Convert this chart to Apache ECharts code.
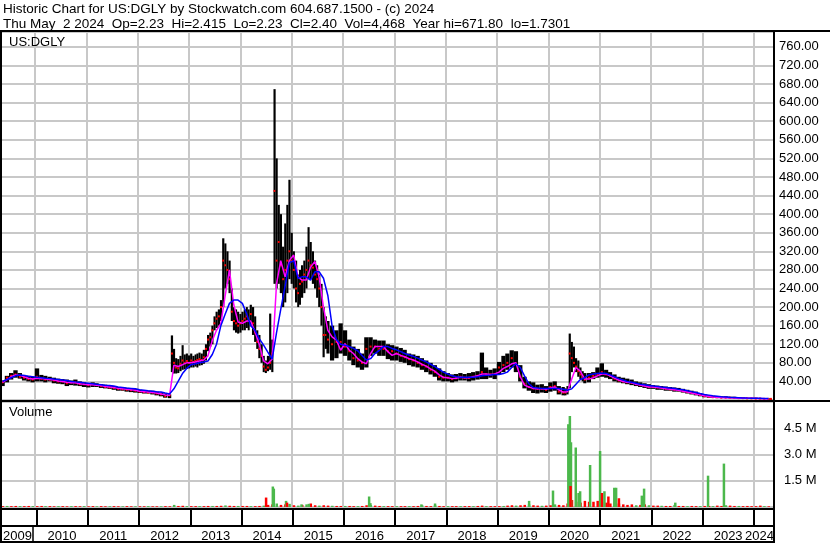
<!DOCTYPE html>
<html><head><meta charset="utf-8">
<script src="https://cdn.jsdelivr.net/npm/echarts@6/dist/echarts.min.js"></script>
<style>html,body{margin:0;padding:0;background:#fff}#c{width:830px;height:543px}</style>
</head><body><div id="c"></div>
<script>
// ---------------- DATA ----------------
const headerLine1 = 'Historic Chart for US:DGLY by Stockwatch.com 604.687.1500 - (c) 2024';
const headerLine2 = 'Thu May  2 2024  Op=2.23  Hi=2.415  Lo=2.23  Cl=2.40  Vol=4,468  Year hi=671.80  lo=1.7301';
const symbolName = 'US:DGLY';
const volumeTitle = 'Volume';
const axisStart = '2009-05-11';
const axisEnd = '2024-05-24';
const yearBoundaries = ['2010-01-01','2011-01-01','2012-01-01','2013-01-01','2014-01-01','2015-01-01','2016-01-01','2017-01-01','2018-01-01','2019-01-01','2020-01-01','2021-01-01','2022-01-01','2023-01-01','2024-01-01'];
const labelRowDividers = ['2009-12-18'];
const yearLabelDates = ['2009-08-18','2010-07-02','2011-07-02','2012-07-02','2013-07-02','2014-07-02','2015-07-02','2016-07-02','2017-07-02','2018-07-02','2019-07-02','2020-07-02','2021-07-02','2022-07-02','2023-07-02','2024-02-10'];

function monthList(y0, m0, y1, m1) {
  const out = [];
  for (let y = y0, m = m0; y < y1 || (y === y1 && m <= m1); ) {
    out.push(y + '-' + String(m).padStart(2, '0') + '-15');
    m++; if (m > 12) { m = 1; y++; }
  }
  return out;
}
function halfMonthList(y0, m0, y1, m1) {
  const out = [];
  for (let y = y0, m = m0; y < y1 || (y === y1 && m <= m1); ) {
    const ym = y + '-' + String(m).padStart(2, '0');
    out.push(ym + '-01', ym + '-16');
    m++; if (m > 12) { m = 1; y++; }
  }
  return out;
}
const maDates = monthList(2009, 5, 2024, 4);
const priceDates = [].concat(
  monthList(2009, 5, 2012, 8),
  halfMonthList(2012, 9, 2014, 6),
  halfMonthList(2014, 7, 2015, 9),
  monthList(2015, 10, 2020, 4),
  halfMonthList(2020, 5, 2020, 9),
  monthList(2020, 10, 2024, 4),
  ['2024-05-02']);

const priceLow = [
  30,38,44,48,46,42,40,38,
  40,40,38,40,36,35,34,30,32,31,30,28,
  27,28,28,26,25,24,22,20,20,18,17,16,
  15,14,14,12,10,8,5,4,
  60,57,57,58,62,65,66,67,
  68,70,70,72,70,74,75,78,85,105,115,120,150,155,160,170,200,240,250,230,170,150,145,143,
  145,150,150,155,150,160,140,125,110,90,80,60,
  58,62,65,60,250,240,250,230,200,210,230,260, 250,240,210,200,205,220,230,240,260,260,250,240,220,200,160,92,110,100,
  85,90,100,
  95,85,75,70,65,70,95,100,95,95,88,85,
  85,82,80,75,72,70,65,60,55,50,42,40,
  40,38,40,42,42,40,42,44,45,45,48,45,
  55,60,65,70,60,40,25,20,15,14,16,15,
  18,20,12,10,
  10,12,25,60,70,60,50,45,40,36,
  38,45,48,
  50,48,45,40,38,36,34,32,30,28,26,24,
  24,22,22,20,20,18,18,16,14,12,10,8,
  6,5,5,4,4,4,3.5,3.5,3,3,2.5,2.5,
  2.5,2,2,2,
  2.23];
const priceHigh = [
  42,52,58,64,58,54,52,50,
  68,54,52,50,48,46,45,44,42,44,40,38,
  36,38,36,34,33,32,30,28,27,26,25,24,
  22,21,20,20,18,16,14,12,
  139,110,90,88,95,118,98,100,
  96,100,95,98,100,102,100,108,120,140,145,160,180,190,195,215,348,337,320,300,240,200,195,190,
  185,190,195,200,195,205,200,180,150,140,120,95,
  85,95,186,130,669,520,420,400,330,380,420,474, 360,320,300,270,280,290,300,330,372,340,320,300,290,270,250,200,180,170,
  160,150,165,
  150,130,115,110,100,135,135,130,128,128,120,118,
  115,112,108,100,98,95,90,85,80,75,68,62,
  58,55,56,58,56,58,60,62,102,70,65,68,
  82,95,100,107,105,75,50,40,38,33,34,30,
  38,40,30,28,
  25,30,143,125,115,90,85,70,62,58,
  58,60,70,
  79,65,60,55,50,48,46,44,40,38,36,34,
  32,31,30,29,28,27,26,24,22,20,18,15,
  12,10,9,8,8,8,7,7,6,6,5,5,
  5,4,4,3.5,
  2.415];
const priceClose = [
  38,48,52,55,50,48,45,44,
  50,46,44,44,42,40,40,36,38,38,34,34,
  32,34,32,30,28,27,26,24,23,22,21,20,
  18,17,16,16,14,12,8,10,
  100,80,70,68,78,85,80,84,
  80,85,82,84,86,88,86,92,110,130,135,150,165,175,180,200,300,290,280,260,190,170,165,160,
  165,170,175,180,170,185,165,145,125,110,95,72,
  65,70,80,100,450,300,340,290,260,280,300,320, 300,280,240,230,250,255,270,280,300,290,285,270,260,240,200,140,140,130,
  120,125,125,
  115,105,90,85,80,110,115,115,110,110,105,105,
  100,95,92,88,85,80,75,72,65,60,50,48,
  48,45,47,50,48,48,50,52,60,55,55,56,
  70,75,80,90,78,50,35,28,25,24,24,22,
  28,30,18,16,
  16,20,100,90,80,72,62,55,48,44,
  48,52,55,
  60,55,52,46,42,40,38,37,34,32,30,28,
  28,27,26,24,23,22,21,19,17,15,13,11,
  8,7,6,6,5,5,5,4.5,4,4,3.5,3.5,
  3,3,2.5,2.4,
  2.40];

const maShort = [
  38,44,50,54,53,50,47,45,
  47,46,45,44,43,41,40,38,37,37,35,34,
  33,33,32,31,29,28,27,25,24,23,22,21,
  19,18,17,16,15,13,11,10,75,72,76,80,
  80,82,84,86,95,128,150,165,225,280,205,168,
  165,170,170,147,120,84,78,88,250,300,265,300,
  312,265,258,258,286,298,265,200,150,136,129,107,
  121,107,100,89,82,78,100,115,115,115,104,96,
  100,96,93,89,86,82,77,73,67,62,54,49,
  48,46,47,49,48,48,50,52,56,56,55,56,
  60,68,72,78,80,50,32,28,25,24,24,23,
  26,28,22,17,18,45,70,62,45,45,48,52,
  56,56,52,47,43,40,38,37,34,32,30,28,
  28,27,26,24,23,22,21,19,17,15,13,11,
  9,7.5,6.5,6,5.5,5,5,4.5,4,4,3.5,3.5,
  3.2,3,2.7,2.5];
const maLong = [
  40,44,48,52,54,53,51,50,
  49,48,47,46,45,44,43,42,40,39,38,37,
  36,35,34,33,32,31,30,28,27,26,25,24,
  22,21,20,19,18,17,15,13,24,40,57,68,
  76,78,80,82,84,98,120,160,185,208,215,215,
  208,185,160,150,132,118,103,88,145,195,245,295,
  300,262,265,265,258,276,276,262,225,160,130,120,
  118,115,111,106,96,86,89,100,107,115,115,111,
  108,104,100,97,94,90,86,82,77,72,66,60,
  56,52,50,49,49,49,49,50,52,53,54,55,
  55,57,60,70,78,70,52,35,27,26,25,25,
  25,25,25,23,21,24,34,44,48,54,56,57,
  58,57,54,50,46,43,40,38,36,34,33,31,
  30,29,28,27,26,25,23,22,20,18,16,14,
  12,10.5,9,8,7,6.5,6,5.5,5,4.5,4.2,4,
  3.8,3.5,3.2,3];

// volume in millions
const baseVol = [
  0.05,0.06,0.05,0.06,0.05,0.05,0.06,0.05,
  0.05,0.06,0.05,0.05,0.04,0.05,0.05,0.04,0.05,0.05,0.04,0.05,
  0.04,0.05,0.04,0.05,0.04,0.04,0.05,0.04,0.04,0.05,0.04,0.04,
  0.04,0.04,0.05,0.04,0.04,0.04,0.05,0.04,0.12,0.06,0.07,0.05,
  0.05,0.05,0.05,0.05,0.06,0.06,0.06,0.07,0.09,0.07,0.06,0.06,
  0.06,0.06,0.05,0.05,0.06,0.08,0.12,0.15,0.2,0.12,0.15,0.18,
  0.1,0.08,0.12,0.15,0.2,0.1,0.08,0.1,0.08,0.07,0.06,0.06,
  0.06,0.06,0.05,0.05,0.06,0.1,0.12,0.08,0.06,0.05,0.05,0.05,
  0.05,0.05,0.05,0.05,0.05,0.06,0.1,0.06,0.05,0.1,0.06,0.05,
  0.05,0.05,0.05,0.05,0.05,0.05,0.05,0.06,0.08,0.05,0.05,0.05,
  0.05,0.06,0.08,0.1,0.08,0.1,0.12,0.15,0.1,0.08,0.07,0.08,
  0.1,0.15,0.12,0.1,0.2,0.4,0.3,0.25,0.35,0.3,0.3,0.35,
  0.3,0.25,0.2,0.25,0.2,0.15,0.12,0.15,0.1,0.12,0.15,0.1,
  0.08,0.08,0.07,0.06,0.06,0.12,0.06,0.06,0.05,0.06,0.05,0.05,
  0.06,0.06,0.05,0.08,0.06,0.1,0.08,0.06,0.06,0.05,0.06,0.05,
  0.05,0.08,0.05,0.04];
const baseUp = [
  0,1,0,0,1,0,0,1,
  0,0,1,0,0,1,0,0,1,0,0,1,
  0,0,1,0,0,1,0,0,1,0,0,1,
  0,0,1,0,0,1,0,0,1,0,0,1,
  0,0,1,0,0,1,0,0,1,0,0,1,
  0,0,1,0,0,1,0,0,1,0,0,1,
  0,1,0,1,0,0,1,0,0,1,0,0,
  1,0,0,1,0,0,1,0,0,1,0,0,
  1,0,0,1,0,0,1,0,0,1,0,0,
  1,0,0,1,0,0,1,0,0,1,0,0,
  0,1,0,0,1,0,0,1,0,0,1,0,
  0,1,0,0,0,0,0,0,0,0,0,0,
  0,0,0,0,0,0,0,0,1,0,0,1,
  0,0,1,0,0,1,0,0,1,0,0,1,
  0,0,1,0,0,1,0,0,1,0,0,0,
  0,0,1,0];
const spikeDates = ['2014-07-01','2014-08-18','2014-08-25','2014-11-20','2014-11-27','2015-03-10','2015-05-01','2016-07-03','2016-07-12','2017-07-10','2017-10-15','2019-08-15',
  '2020-02-01','2020-05-20','2020-05-31','2020-06-08','2020-06-05','2020-07-12','2020-08-01','2020-08-12','2020-10-22','2021-01-01','2021-01-15','2021-02-01','2021-03-01',
  '2021-04-12','2021-04-25','2021-05-15','2021-10-25','2021-11-10','2022-06-20','2023-02-08','2023-06-01'];
const spikeVol = [0.54,1.17,1.05,0.35,0.25,0.15,0.18,0.6,0.22,0.15,0.2,0.35,
  0.94,4.73,5.2,3.7,1.2,3.4,0.8,0.9,2.4,3.2,0.8,0.9,0.6,
  1.1,1.1,0.5,0.65,1.05,0.25,1.79,2.48];
const spikeUp = [0,1,1,1,0,1,1,1,1,1,1,1,
  1,1,1,1,0,1,1,1,1,1,0,1,0,
  1,1,0,1,1,1,1,1];

const priceTicks = [40,80,120,160,200,240,280,320,360,400,440,480,520,560,600,640,680,720,760];
const volTicks = [1.5,3.0,4.5];

// ---------------- CHART ----------------
const P = s => { const a = s.split('-').map(Number); return Date.UTC(a[0], a[1] - 1, a[2]); };
const priceT = priceDates.map(P);
const priceRows = priceT.map((t, i) => [t, priceLow[i], priceHigh[i], priceClose[i]]);
const volRows = maDates.map((d, i) => [P(d), baseVol[i], baseUp[i]])
  .concat(spikeDates.map((d, i) => [P(d), spikeVol[i], spikeUp[i]]));

const chart = echarts.init(document.getElementById('c'), null, { renderer: 'canvas' });
const FONT = 'Arial, "Liberation Sans", sans-serif';
const GRID = '#c8c8c8';
const BLACK = '#000';

function renderPrice(params, api) {
  const i = params.dataIndex;
  const t = api.value(0);
  const pHi = api.coord([t, api.value(2)]);
  const pLo = api.coord([t, api.value(1)]);
  const pCl = api.coord([t, api.value(3)]);
  const tp = i > 0 ? priceT[i - 1] : t;
  const tn = i < priceT.length - 1 ? priceT[i + 1] : t;
  const xp = api.coord([tp, 0])[0], xn = api.coord([tn, 0])[0];
  let w = (xn - xp) / 2;
  if (i === 0 || i === priceT.length - 1) w = (xn - xp);
  w = Math.max(1.5, w);
  return { type: 'group', children: [
    { type: 'rect', shape: { x: pHi[0] - w / 2, y: pHi[1], width: w, height: Math.max(1, pLo[1] - pHi[1]) }, style: { fill: BLACK } },
    { type: 'rect', shape: { x: pCl[0] - 1, y: pCl[1] - 1, width: 2, height: 2 }, style: { fill: '#ff0000' } }
  ]};
}
function renderVol(params, api) {
  const t = api.value(0);
  const p0 = api.coord([t, 0]);
  const p1 = api.coord([t, api.value(1)]);
  return { type: 'rect', shape: { x: p0[0] - 1, y: p1[1], width: 2.5, height: p0[1] - p1[1] },
    style: { fill: api.value(2) ? '#4cb84c' : '#ff0000' } };
}

function xAxisFor(idx, ticks, color, width) {
  return {
    type: 'value', gridIndex: idx, min: P(axisStart), max: P(axisEnd),
    axisLine: { show: false }, axisLabel: { show: false },
    axisTick: { show: false, customValues: ticks.map(P) },
    splitLine: { show: true, lineStyle: { color: color, width: width } }
  };
}

const option = {
  animation: false,
  backgroundColor: '#fff',
  grid: [
    { left: 2, right: 56, top: 32, height: 368 },
    { left: 2, right: 56, top: 402, height: 105 },
    { left: 2, right: 56, top: 509, height: 16 },
    { left: 2, right: 56, top: 527, height: 14 }
  ],
  xAxis: [
    xAxisFor(0, yearBoundaries, GRID, 2),
    xAxisFor(1, yearBoundaries, GRID, 2),
    { type: 'value', gridIndex: 2, min: P(axisStart), max: P(axisEnd), position: 'bottom',
      axisLine: { show: false },
      axisTick: { show: false, customValues: yearBoundaries.map(P) },
      splitLine: { show: true, lineStyle: { color: BLACK, width: 2 } },
      axisLabel: { show: true, customValues: yearLabelDates.map(P), margin: 5,
        formatter: v => String(new Date(v).getUTCFullYear()), color: BLACK, fontSize: 13, fontFamily: FONT } },
    xAxisFor(3, labelRowDividers, BLACK, 1.5)
  ],
  yAxis: [
    { type: 'value', gridIndex: 0, position: 'right', min: 0, max: 792, interval: 40,
      axisLine: { show: false }, axisTick: { show: false },
      splitLine: { show: true, lineStyle: { color: GRID, width: 2 } },
      axisLabel: { margin: 5, color: BLACK, fontSize: 13, fontFamily: FONT,
        formatter: v => priceTicks.indexOf(v) >= 0 ? v.toFixed(2) : '' } },
    { type: 'value', gridIndex: 1, position: 'right', min: 0, max: 6, interval: 1.5,
      axisLine: { show: false }, axisTick: { show: false },
      splitLine: { show: true, lineStyle: { color: GRID, width: 2 } },
      axisLabel: { margin: 10, color: BLACK, fontSize: 13, fontFamily: FONT,
        formatter: v => volTicks.indexOf(v) >= 0 ? v.toFixed(1) + ' M' : '' } },
    { type: 'value', gridIndex: 2, show: false },
    { type: 'value', gridIndex: 3, show: false }
  ],
  series: [
    { type: 'custom', xAxisIndex: 0, yAxisIndex: 0, data: priceRows, renderItem: renderPrice, clip: true, z: 2 },
    { type: 'line', xAxisIndex: 0, yAxisIndex: 0, data: maDates.map((d, i) => [P(d), maShort[i]]),
      showSymbol: false, lineStyle: { color: '#ff00ff', width: 1.5 }, z: 3 },
    { type: 'line', xAxisIndex: 0, yAxisIndex: 0, data: maDates.map((d, i) => [P(d), maLong[i]]),
      showSymbol: false, lineStyle: { color: '#0000ff', width: 1.5 }, z: 4 },
    { type: 'custom', xAxisIndex: 1, yAxisIndex: 1, data: volRows, renderItem: renderVol, clip: true, z: 2 }
  ],
  graphic: [
    { type: 'text', left: 3, top: 2, style: { text: headerLine1, font: '13.5px ' + FONT, fill: BLACK } },
    { type: 'text', left: 3, top: 17, style: { text: headerLine2, font: '13.5px ' + FONT, fill: BLACK } },
    { type: 'text', left: 9, top: 36, z: 10, style: { text: symbolName, font: '13px ' + FONT, fill: BLACK } },
    { type: 'text', left: 9, top: 406, z: 10, style: { text: volumeTitle, font: '13px ' + FONT, fill: BLACK } },
    { type: 'rect', z: 20, shape: { x: 0, y: 30, width: 830, height: 2 }, style: { fill: BLACK } },
    { type: 'rect', z: 20, shape: { x: 0, y: 30, width: 2, height: 513 }, style: { fill: BLACK } },
    { type: 'rect', z: 20, shape: { x: 773, y: 30, width: 2, height: 513 }, style: { fill: BLACK } },
    { type: 'rect', z: 20, shape: { x: 0, y: 400, width: 830, height: 2 }, style: { fill: BLACK } },
    { type: 'rect', z: 20, shape: { x: 0, y: 508, width: 775, height: 2 }, style: { fill: BLACK } },
    { type: 'rect', z: 20, shape: { x: 0, y: 525, width: 775, height: 2 }, style: { fill: BLACK } },
    { type: 'rect', z: 20, shape: { x: 0, y: 541, width: 775, height: 2 }, style: { fill: BLACK } }
  ]
};
chart.setOption(option);
</script></body></html>
